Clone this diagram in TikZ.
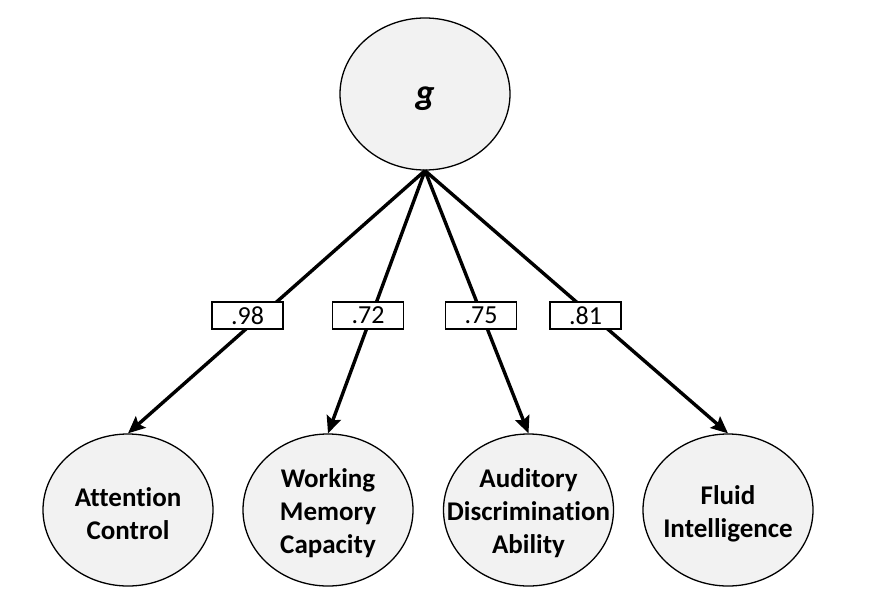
\documentclass[tikz,border=0pt]{standalone}
\usepackage{fontspec}
\setmainfont{Carlito}[Ligatures={NoCommon}]
\usetikzlibrary{shapes.geometric,arrows.meta}
\tikzset{
  latent/.style={ellipse, draw=black, line width=1.3pt, fill=black!5, minimum width=170pt, minimum height=152pt, inner sep=0pt},
  lvtext/.style={align=center, font=\bfseries\fontsize{27}{33}\selectfont, inner sep=0pt},
  loading/.style={draw=black, line width=1.2pt, fill=white, minimum width=71pt, minimum height=27pt, inner sep=0pt, font=\fontsize{26}{30}\selectfont},
  path/.style={line width=3.4pt, -{Stealth[length=17pt,width=15pt,inset=3pt]}, shorten >=0pt}
}
\begin{document}
\begin{tikzpicture}[x=1pt,y=-1pt]
\useasboundingbox (0,0) rectangle (873,611);
\node[latent] (g) at (425,94) {};
\node[lvtext, font=\bfseries\itshape\fontsize{36}{40}\selectfont] (gt) at (425,99) {g};
\node[latent] (ac) at (128,510) {};
\node[latent] (wm) at (328,510) {};
\node[latent] (ad) at (528.5,510) {};
\node[latent] (fi) at (728,510) {};
\node[lvtext] (act) at ([yshift=-3.5pt]ac.center) {Attention\\Control};
\node[lvtext] (wmt) at ([yshift=-3.5pt]wm.center) {Working\\Memory\\Capacity};
\node[lvtext] (adt) at ([yshift=-3.5pt]ad.center) {Auditory\\Discrimination\\Ability};
\node[lvtext] (fit) at ([yshift=-3.5pt]fi.center) {Fluid\\Intelligence};
\draw[path] (g.south) -- (ac.north);
\draw[path] (g.south) -- (wm.north);
\draw[path] (g.south) -- (ad.north);
\draw[path] (g.south) -- (fi.north);
\node[loading] (l1) at (247.5,315.5) {.98};
\node[loading] (l2) at (368,315.5) {.72};
\node[loading] (l3) at (481,315.5) {.75};
\node[loading] (l4) at (585.5,315.5) {.81};
\end{tikzpicture}
\end{document}
